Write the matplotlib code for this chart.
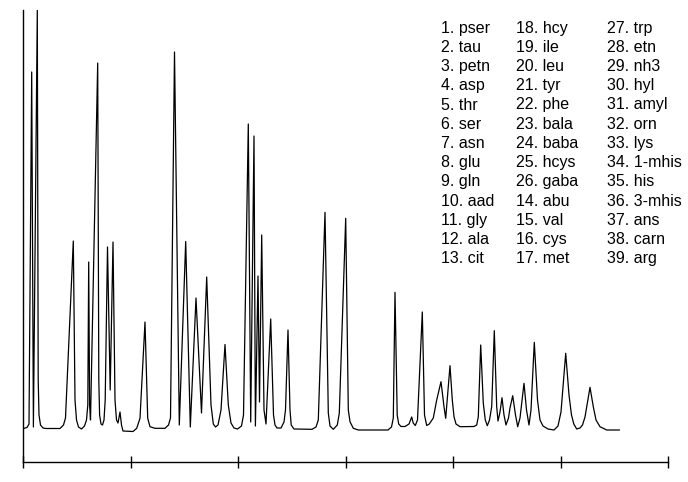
import matplotlib.pyplot as plt

plt.rcParams['font.family'] = ['Liberation Sans', 'DejaVu Sans']

# trazo del cromatograma
tiempo = [0.5, 4, 6, 8.7, 10.4, 14.3, 15.2, 16, 17.5, 20, 23, 37, 40.5, 42.5, 50.3, 52, 53.5, 55.5, 58.5,
          61.5, 63.5, 64.8, 65.7, 66.6, 67.5, 74.7, 75.8, 76.6, 78, 79.5, 81, 82.2, 84.5, 87.2, 90, 92,
          93.5, 95, 97, 98.5, 100, 110, 113.7, 117, 122, 124.7, 127, 132, 142, 145.5, 147.5, 151.5,
          156.3, 162.7, 167.3, 173, 178.5, 183.7, 188, 190.3, 192.5, 195, 198, 202, 205.3, 208, 211,
          214.5, 218.5, 220.5, 225.3, 227.7, 231, 232.4, 235, 236.5, 238.7, 241, 243, 247.7, 250.5,
          252, 254, 258, 261, 262.5, 265, 267, 268.2, 271, 289, 293, 295.3, 302, 305.3, 307, 310.3,
          314.3, 316.3, 322.7, 325.3, 327, 330.3, 335.3, 365, 368.5, 370.3, 372, 374.2, 375.7, 378,
          382, 386, 388.7, 390.2, 392.3, 394.5, 399.3, 401.5, 403.7, 406.3, 410.3, 413.7, 418, 421,
          422.7, 427, 429.3, 431, 433, 437, 451, 453.7, 455.3, 457.7, 460.3, 462.3, 464.3, 466.5,
          468.7, 471.3, 473.7, 475, 477, 479, 481, 483, 485.5, 487, 489.7, 492.5, 494.7, 497, 498.5,
          501, 503.5, 506, 508, 511.3, 514.5, 517, 520, 525, 531, 535, 538, 542.7, 546, 548.5, 550.8,
          553.7, 557, 559.5, 562, 567, 570.3, 573, 577, 583.7, 596.3]
senal = [0.5, 1.5, 5, 357, 2, 419, 49, 14, 4, 1, 0.5, 0.5, 4, 11, 188, 29, 9, 2, 0,
         3, 9, 24, 167, 24, 9, 366, 49, 14, 5, 4, 9, 29, 182, 39, 187, 29,
         9, 6, 17, 4, -2, -2.5, 0.7, 10.7, 107, 10.7, 2.3, 0.7, 0.7, 4, 11, 377,
         4, 187.5, 2, 131, 16, 152, 24, 5, 2, 4, 19, 84.5, 24, 6, 1,
         0, 3, 14, 305, 7, 293, 3, 153, 27, 194, 19, 5, 110, 14,
         4, 1, 1, 7, 19, 99, 19, 4, 0, -0.3, 2, 9, 216.7, 16, 3, -0.3,
         4, 15.7, 210.7, 19, 7.3, 0.7, -1, -1, 2, 11, 136.7, 14, 5, 2.5,
         2.5, 5, 12, 6, 3.5, 9, 117, 14, 3.5, 5, 11, 29, 47.3, 22.3,
         10.7, 63.3, 29, 12.3, 5, 2.3, 2.5, 4, 12.3, 84, 25.7, 9, 3.3, 9,
         22.3, 98.3, 22.3, 8, 17, 31.3, 14, 4, 11, 21, 33.3, 14, 2.3, 11, 24,
         45.7, 19, 4, 19, 86.7, 29, 9, 3, 0, -1, 3, 17, 75.7, 34, 14, 5,
         0, 1, 4, 12, 41.7, 22.3, 9, 2.3, -1, -1]

ticksX = [0, 107.5, 215, 322.5, 430, 537.5, 645]

compuestos = ['pser', 'tau', 'petn', 'asp', 'thr', 'ser', 'asn', 'glu', 'gln', 'aad', 'gly', 'ala', 'cit',
              'abu', 'val', 'cys', 'met', 'hcy', 'ile', 'leu', 'tyr', 'phe', 'bala', 'baba', 'hcys', 'gaba',
              'trp', 'etn', 'nh3', 'hyl', 'amyl', 'orn', 'lys', '1-mhis', 'his', '3-mhis', 'ans', 'carn', 'arg']
columnas = [[1, 2, 3, 4, 5, 6, 7, 8, 9, 10, 11, 12, 13],
            [18, 19, 20, 21, 22, 23, 24, 25, 26, 14, 15, 16, 17],
            [27, 28, 29, 30, 31, 32, 33, 34, 35, 36, 37, 38, 39]]

fig = plt.figure(figsize=(6.88, 4.82), dpi=100)
ax = fig.add_axes([23 / 688, 20 / 482, 645 / 688, 452 / 482])
ax.plot(tiempo, senal, color='black', linewidth=0.9)
ax.set_xlim(0, 645)
ax.set_ylim(-33, 419)

ax.spines['top'].set_visible(False)
ax.spines['right'].set_visible(False)
ax.spines['left'].set_linewidth(1)
ax.spines['bottom'].set_linewidth(1)
ax.set_xticks(ticksX)
ax.set_xticklabels([])
ax.set_yticks([])
ax.tick_params(axis='x', direction='inout', length=8, width=1)

colX = [441, 516, 607]
for c in range(0, 3):
    for f in range(0, len(columnas[c])):
        n = columnas[c][f]
        yPix = 32.7 + 19.2 * f
        fig.text(colX[c] / 688, 1 - yPix / 482, str(n) + '. ' + compuestos[n - 1],
                 fontsize=11.5, va='baseline', ha='left', color='black')

fig.savefig('out.png', dpi=100)
